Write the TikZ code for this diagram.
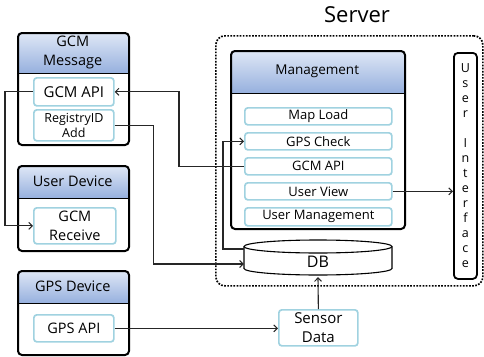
\documentclass[tikz,border=0pt]{standalone}
\usepackage{fontspec}
\setmainfont{Open Sans}
\usetikzlibrary{arrows.meta}
\definecolor{hdtop}{RGB}{224,232,246}
\definecolor{hdbot}{RGB}{150,176,222}
\definecolor{subc}{RGB}{160,210,224}
\tikzset{
  frame/.style={draw=black, line width=2pt, rounded corners=4pt, inner sep=0pt},
  divider/.style={draw=black, line width=1.5pt},
  head/.style={top color=hdtop, bottom color=hdbot, inner sep=0pt, align=center},
  sub/.style={draw=subc, line width=1.7pt, rounded corners=3pt, fill=white,
    inner sep=0pt, align=center, anchor=north west},
  conn/.style={draw=black!85, line width=1.1pt},
  arr/.style={conn, -{Straight Barb[length=3.5pt,width=7pt,line width=1pt]}},
  fA/.style={font=\fontsize{14.5}{18.5}\selectfont},
  fB/.style={font=\fontsize{13}{15}\selectfont},
}
\begin{document}
\begin{tikzpicture}[x=1pt,y=-1pt]
\useasboundingbox (0,0) rectangle (484,356);

% ---- device boxes: shaded header, white body, black frame ----
% GCM Message
\begin{scope}
  \clip[rounded corners=4pt] (17,32) rectangle (128,144);
  \node[head, fA, anchor=north west, minimum width=111pt, minimum height=41pt] (gcmh) at (17,32) {GCM\\Message};
\end{scope}
\node[frame, anchor=north west, minimum width=111pt, minimum height=112pt] (gcm) at (17,32) {};
\draw[divider] (gcmh.south west) -- (gcmh.south east);
\node[sub, font=\fontsize{15}{18}\selectfont, minimum width=80pt, minimum height=28pt] (gapi) at (33,77) {GCM API};
\node[sub, font=\fontsize{12.5}{15}\selectfont, minimum width=80pt, minimum height=31pt] (reg) at (33,109) {RegistryID\\Add};

% User Device
\begin{scope}
  \clip[rounded corners=4pt] (17,165) rectangle (128,250);
  \node[head, fA, anchor=north west, minimum width=111pt, minimum height=33pt] (udh) at (17,165) {User Device};
\end{scope}
\node[frame, anchor=north west, minimum width=111pt, minimum height=85pt] (ud) at (17,165) {};
\draw[divider] (udh.south west) -- (udh.south east);
\node[sub, fA, minimum width=82pt, minimum height=36pt] (recv) at (33,207) {GCM\\Receive};

% GPS Device
\begin{scope}
  \clip[rounded corners=4pt] (17,270) rectangle (128,354);
  \node[head, fA, anchor=north west, minimum width=111pt, minimum height=33pt] (gpsh) at (17,270) {GPS Device};
\end{scope}
\node[frame, anchor=north west, minimum width=111pt, minimum height=84pt] (gpsd) at (17,270) {};
\draw[divider] (gpsh.south west) -- (gpsh.south east);
\node[sub, fA, minimum width=80pt, minimum height=27pt] (gpsapi) at (33,314) {GPS API};

% ---- server ----
\node[font=\fontsize{22}{26}\selectfont, inner sep=0pt] (srvt) at (357,15) {Server};
\node[draw=black, line width=1.7pt, dash pattern=on 1.7pt off 1.4pt, rounded corners=9pt,
      anchor=north west, minimum width=267pt, minimum height=250pt] (srv) at (215,35) {};

% Management
\begin{scope}
  \clip[rounded corners=4pt] (230,50) rectangle (404,228);
  \node[head, font=\fontsize{13.5}{16}\selectfont, anchor=north west, minimum width=174pt, minimum height=43pt] (mgh) at (230,50) {Management};
\end{scope}
\node[frame, anchor=north west, minimum width=174pt, minimum height=178pt] (mg) at (230,50) {};
\draw[divider] (mgh.south west) -- (mgh.south east);
\node[sub, fB, minimum width=147pt, minimum height=17pt] (mapl)  at (244,107) {Map Load};
\node[sub, fB, minimum width=147pt, minimum height=17pt] (gpsc)  at (244,132) {GPS Check};
\node[sub, fB, minimum width=147pt, minimum height=17pt] (mgcm)  at (244,157) {GCM API};
\node[sub, fB, minimum width=147pt, minimum height=17pt] (uview) at (244,182) {User View};
\node[sub, fB, minimum width=147pt, minimum height=18pt] (umgmt) at (244,207) {User Management};

% User Interface
\node[frame, line width=1.8pt, anchor=north west, minimum width=23pt, minimum height=226pt,
      align=center, font=\fontsize{12.5}{15}\selectfont] (ui) at (453,52)
  {U\\s\\e\\r\\[15pt]I\\n\\t\\e\\r\\f\\a\\c\\e};

% DB cylinder
\draw[black, line width=1.1pt, fill=white]
  (244,246.5) -- (244,268.5) arc[start angle=180, end angle=360, x radius=74pt, y radius=6.5pt]
  -- (392,246.5) arc[start angle=0, end angle=180, x radius=74pt, y radius=6.5pt] -- cycle;
\draw[black, line width=1.1pt] (244,246.5) arc[start angle=180, end angle=360, x radius=74pt, y radius=6.5pt];
\node[font=\fontsize{16}{18}\selectfont, inner sep=0pt, minimum width=148pt, minimum height=28pt] (db) at (318,262) {DB};
\coordinate (dbtl) at (244,249);

% Sensor data
\node[sub, font=\fontsize{15}{19}\selectfont, minimum width=79pt, minimum height=36pt] (sens) at (278,309) {Sensor\\Data};

% ---- connectors ----
\draw[arr] (mgcm.west) -- ++(-65,0) |- (gapi.east);
\draw[arr] (gapi.west) -- ++(-28,0) |- (recv.west);
\draw[arr] (reg.east) -- ++(39,0) |- ([yshift=-2pt]db.west);
\draw[arr] (dbtl) -- ++(-21,0) |- (gpsc.west);
\draw[arr] (gpsapi.east) -- (gpsapi.east -| sens.west);
\draw[arr] (sens.north) -- ([yshift=-1pt]db.south);
\draw[arr] (uview.east) -- (uview.east -| ui.west);
\end{tikzpicture}
\end{document}
